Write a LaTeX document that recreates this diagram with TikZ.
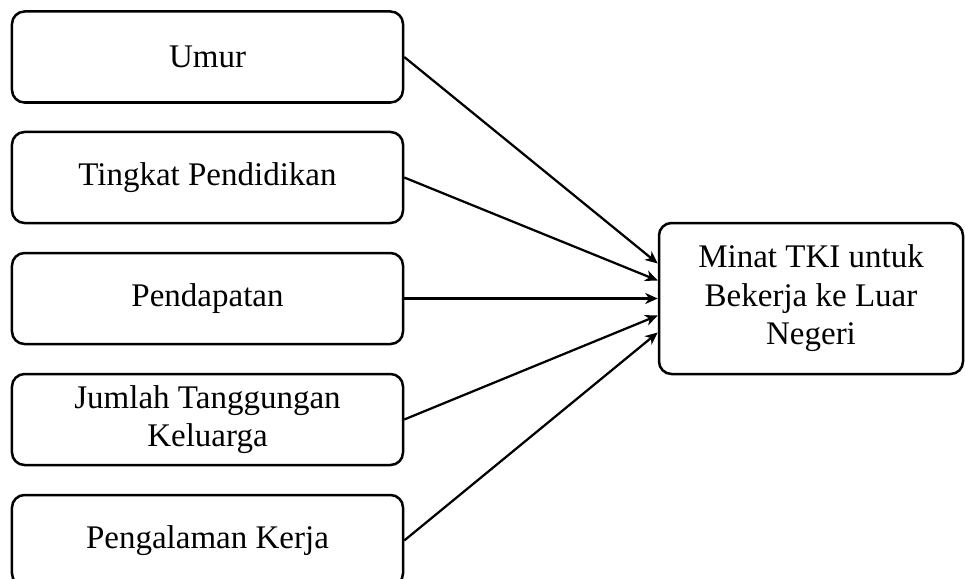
\documentclass[tikz,border=0pt]{standalone}
\usepackage{fontspec}
\setmainfont{Liberation Serif}
\usetikzlibrary{arrows.meta}
\begin{document}
\begin{tikzpicture}[x=0.4pt, y=-0.4pt,
  kotak/.style={draw, line width=1pt, rounded corners=5pt, align=center, inner sep=0pt, font=\fontsize{13.2}{15.4}\selectfont},
  faktor/.style={kotak, minimum width=156.4pt, minimum height=36.4pt},
  panah/.style={-{Stealth[length=5pt, width=4.4pt, inset=1.5pt]}, line width=0.9pt}]
\clip (0,0) rectangle (965,579);
\node[faktor] (umur) at (207.5,57) {Umur};
\node[faktor] (tingkat) at (207.5,177.5) {Tingkat Pendidikan};
\node[faktor] (pendapatan) at (207.5,298.5) {Pendapatan};
\node[faktor] (jumlah) at (207.5,419.5) {Jumlah Tanggungan\\Keluarga};
\node[faktor] (pengalaman) at (207.5,540.5) {Pengalaman Kerja};
\node[kotak, minimum width=121.6pt, minimum height=60.4pt] (minat) at (811,298.5) {Minat TKI untuk\\Bekerja ke Luar\\Negeri};
\foreach \src/\dy in {umur/-35, tingkat/-18, pendapatan/0, jumlah/17, pengalaman/34}
  \draw[panah] (\src.east) -- ([yshift=\dy*-0.4pt]minat.west);
\end{tikzpicture}
\end{document}
